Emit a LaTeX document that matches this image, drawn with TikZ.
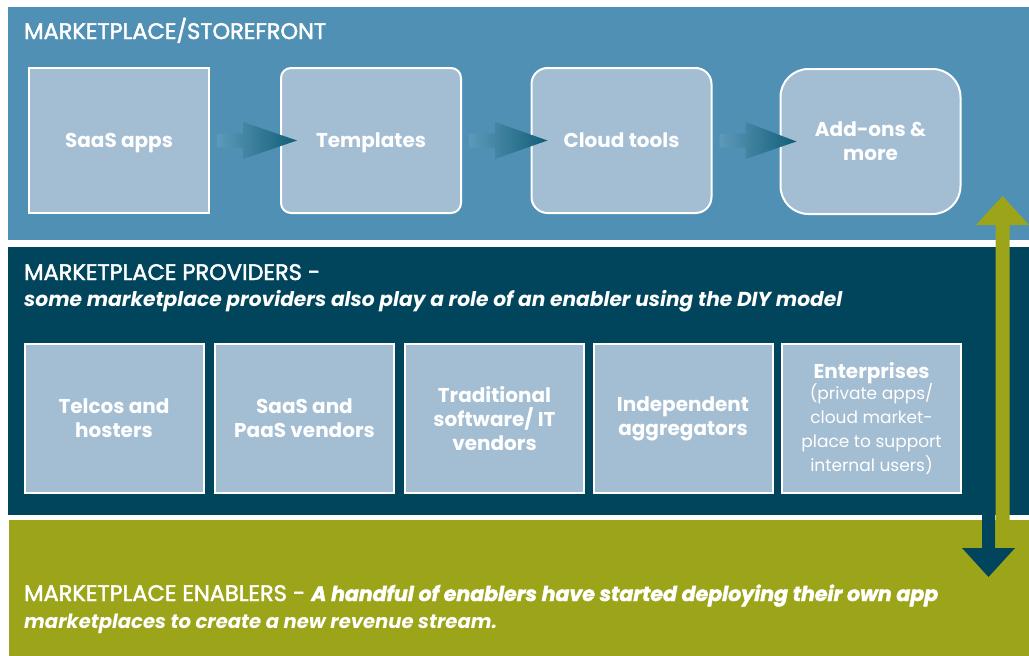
\documentclass[tikz,border=0pt]{standalone}
\usepackage{fontspec}
\setmainfont{Poppins}
\newfontfamily\titlefont{Poppins}[FakeBold=2]
\usetikzlibrary{calc}
\definecolor{topblue}{HTML}{4F90B4}
\definecolor{darkteal}{HTML}{00455B}
\definecolor{olive}{HTML}{9CA51A}
\definecolor{boxfill}{HTML}{A3BDD3}
\definecolor{arrowdark}{HTML}{115E77}
\newcommand\subtxt{\mdseries\fontsize{17}{23.5}\selectfont}
\newcommand\emtxt{\bfseries\itshape}
\begin{document}
\begin{tikzpicture}[x=1pt,y=-1pt,
  box/.style={draw=white, line width=2pt, fill=boxfill, minimum width=180pt, inner sep=0pt,
    text=white, font=\bfseries\fontsize{20}{24}\selectfont, align=center},
  topbox/.style={box, minimum height=145pt},
  oneline/.style={text height=16pt, text depth=2pt},
  botbox/.style={box, minimum width=179pt, minimum height=149pt},
  title/.style={anchor=base west, text=white, inner sep=0pt, font=\titlefont\fontsize{22.5}{22}\selectfont},
  emline/.style={title, font=\bfseries\itshape\fontsize{20.2}{22}\selectfont},
  flowarrow/.style={left color=topblue!92!white, right color=arrowdark}
]
\useasboundingbox (0,0) rectangle (1029,656);
\fill[white] (0,0) rectangle (1029,656);
\fill[topblue] (8,7) rectangle (1029,240);
\fill[darkteal] (8,247) rectangle (1029,515);
\fill[olive] (9,520) rectangle (1029,656);

% top row
\node[topbox, oneline] (a) at (119,140.5) {SaaS apps};
\node[topbox, oneline, rounded corners=10pt] (b) at (371,140.5) {Templates};
\node[topbox, oneline, rounded corners=16pt] (c) at (621.5,140.5) {Cloud tools};
\node[topbox, rounded corners=28pt] (d) at (870.5,141.5) {Add-ons \&\\more};

\foreach \p/\q in {a/b,b/c,c/d}{
  \shade[flowarrow] ($(\p.east)+(7,-7)$) -- ($(\p.east)+(33,-7)$) -- ($(\p.east)+(33,-18.5)$)
     -- ($(\q.west)+(17,0)$) -- ($(\p.east)+(33,18.5)$) -- ($(\p.east)+(33,7)$)
     -- ($(\p.east)+(7,7)$) -- cycle;
}

% titles
\node[title] (t1) at (24,39) {MARKETPLACE/STOREFRONT};
\node[title] (t2) at (24,280) {MARKETPLACE PROVIDERS -};
\node[emline] (t2b) at (24,306) {some marketplace providers also play a role of an enabler using the DIY model};
\node[title] (t3) at (24,601) {MARKETPLACE ENABLERS - {\fontsize{20.5}{22}\selectfont\emtxt A handful of enablers have started deploying their own app}};
\node[emline, font=\bfseries\itshape\fontsize{19.6}{22}\selectfont] (t3b) at (24,628) {marketplaces to create a new revenue stream.};

% bottom row
\node[botbox] (e1) at (114,418.5) {Telcos and\\hosters};
\node[botbox] (e2) at (304.5,418.5) {SaaS and\\PaaS vendors};
\node[botbox] (e3) at (494.5,418.5) {Traditional\\software/ IT\\vendors};
\node[botbox] (e4) at (683,418.5) {Independent\\aggregators};
\node[botbox] (e5) at (871.5,418.5) {Enterprises\\[-3pt]\subtxt (private apps/\\\subtxt cloud market-\\\subtxt place to support\\\subtxt internal users)};

% vertical arrows
\coordinate (dtip) at (988.5,577);
\coordinate (gtip) at (1002.5,196);
\fill[darkteal] (dtip) -- ++(26.5,-29) -- ++(-20,0) -- ++(0,-48) -- ++(-13,0) -- ++(0,48) -- ++(-20,0) -- cycle;
\fill[olive] (gtip) -- ++(26.5,29) -- ++(-19.5,0) -- ++(0,322) -- ++(-14,0) -- ++(0,-322) -- ++(-19.5,0) -- cycle;
\end{tikzpicture}
\end{document}
